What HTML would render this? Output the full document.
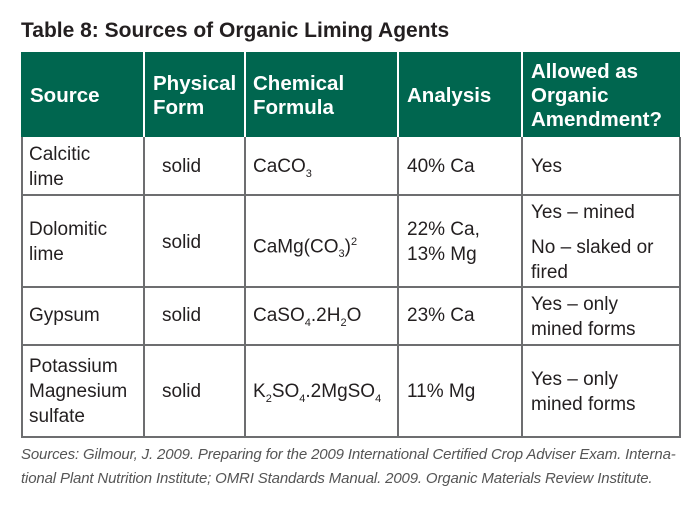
<!DOCTYPE html>
<html><head><style>
body{margin:0;width:700px;height:511px;background:#fff;position:relative;font-family:"Liberation Sans",sans-serif;color:#231f20;overflow:hidden}
.a{position:absolute}
.t{font-weight:bold;font-size:21px;left:21px;top:19px}
.hd{position:absolute;left:21px;top:52px;width:659px;height:85px;background:#00664f}
.vl{position:absolute;width:2px;background:#6d6e70}
.hl{position:absolute;height:2px;background:#6d6e70;left:21px;width:660px}
.h{color:#fff;font-weight:bold;font-size:20.5px;line-height:24px}
.c{font-size:19px;line-height:25px}
sub,sup{font-size:11px}
.cap{font-style:italic;font-size:15px;color:#555;left:21px;letter-spacing:-0.15px;line-height:24px}
</style></head><body>
<div class="a t">Table 8: Sources of Organic Liming Agents</div>
<div class="hd"></div>
<div class="vl" style="left:143px;top:52px;height:386px;background:#fff;"></div>
<div class="vl" style="left:244px;top:52px;height:386px;background:#fff"></div>
<div class="vl" style="left:397px;top:52px;height:386px;background:#fff"></div>
<div class="vl" style="left:521px;top:52px;height:386px;background:#fff"></div>
<div class="vl" style="left:143px;top:137px;height:301px"></div>
<div class="vl" style="left:244px;top:137px;height:301px"></div>
<div class="vl" style="left:397px;top:137px;height:301px"></div>
<div class="vl" style="left:521px;top:137px;height:301px"></div>
<div class="vl" style="left:21px;top:137px;height:301px"></div>
<div class="vl" style="left:679px;top:137px;height:301px"></div>
<div class="hl" style="top:194px"></div>
<div class="hl" style="top:286px"></div>
<div class="hl" style="top:344px"></div>
<div class="hl" style="top:436px"></div>

<div class="a h" style="left:30px;top:84px">Source</div>
<div class="a h" style="left:153px;top:72px">Physical<br>Form</div>
<div class="a h" style="left:253px;top:72px">Chemical<br>Formula</div>
<div class="a h" style="left:407px;top:84px">Analysis</div>
<div class="a h" style="left:531px;top:60px">Allowed as<br>Organic<br>Amendment?</div>

<div class="a c" style="left:29px;top:142px">Calcitic<br>lime</div>
<div class="a c" style="left:162px;top:154px">solid</div>
<div class="a c" style="left:253px;top:154px">CaCO<sub>3</sub></div>
<div class="a c" style="left:407px;top:154px">40% Ca</div>
<div class="a c" style="left:531px;top:154px">Yes</div>

<div class="a c" style="left:29px;top:217px">Dolomitic<br>lime</div>
<div class="a c" style="left:162px;top:230px">solid</div>
<div class="a c" style="left:253px;top:230px">CaMg(CO<sub>3</sub>)<sup>2</sup></div>
<div class="a c" style="left:407px;top:217px">22% Ca,<br>13% Mg</div>
<div class="a c" style="left:531px;top:200px">Yes – mined</div>
<div class="a c" style="left:531px;top:235px">No – slaked or<br>fired</div>

<div class="a c" style="left:29px;top:303px">Gypsum</div>
<div class="a c" style="left:162px;top:303px">solid</div>
<div class="a c" style="left:253px;top:303px">CaSO<sub>4</sub>.2H<sub>2</sub>O</div>
<div class="a c" style="left:407px;top:303px">23% Ca</div>
<div class="a c" style="left:531px;top:292px">Yes – only<br>mined forms</div>

<div class="a c" style="left:29px;top:354px">Potassium<br>Magnesium<br>sulfate</div>
<div class="a c" style="left:162px;top:379px">solid</div>
<div class="a c" style="left:253px;top:379px">K<sub>2</sub>SO<sub>4</sub>.2MgSO<sub>4</sub></div>
<div class="a c" style="left:407px;top:379px">11% Mg</div>
<div class="a c" style="left:531px;top:367px">Yes – only<br>mined forms</div>

<div class="a cap" style="top:443px;white-space:nowrap">Sources: Gilmour, J. 2009. Preparing for the 2009 International Certified Crop Adviser Exam. Interna-<br>tional Plant Nutrition Institute; OMRI Standards Manual. 2009. Organic Materials Review Institute.</div>
</body></html>
